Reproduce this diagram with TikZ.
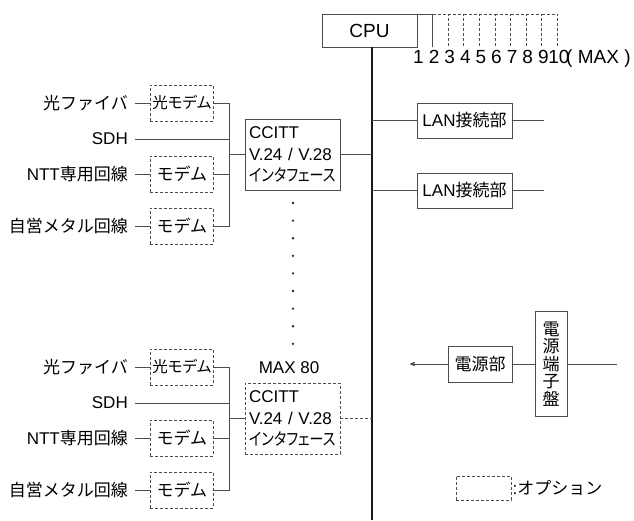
\documentclass[tikz,border=0pt]{standalone}
\usepackage{fontspec}
\setmainfont{Liberation Sans}
\newfontfamily\jp{Noto Sans CJK JP}
\newfontfamily\jpp[RawFeature=+palt]{Noto Sans CJK JP}
\usetikzlibrary{arrows,positioning}

\begin{document}
\begin{tikzpicture}[x=1pt,y=-1pt,node distance=19pt,>=stealth']
  \tikzstyle{every node}=[font=\fontsize{17}{21.5}\selectfont,text=black]
  \tikzstyle{wire}=[draw=black!70,line width=0.8pt]
  \tikzstyle{optwire}=[wire,dash pattern=on 3pt off 2pt]
  \tikzstyle{box}=[rectangle,draw=black!70,line width=0.8pt,inner sep=2pt]
  \tikzstyle{opt}=[box,dash pattern=on 3pt off 2pt]
  \tikzstyle{modem}=[opt,minimum width=63pt,minimum height=36pt]
  \tikzstyle{iface}=[box,minimum width=95pt,minimum height=71pt,
                     text width=87pt,align=left]
  \tikzstyle{lan}=[box,minimum width=95pt,minimum height=35pt]
  \tikzstyle{line label}=[anchor=east,inner sep=3pt]
  \tikzstyle{num}=[font=\fontsize{19}{21}\selectfont,inner sep=0pt,anchor=base]

  \useasboundingbox (0,0) rectangle (634,520);

  % CPU with its slots 1..10
  \node [box,minimum width=95pt,minimum height=33pt,
         font=\fontsize{19}{21}\selectfont] (cpu) at (369.5,30.5) {CPU};
  \coordinate (bus) at (372,47);
  \coordinate (busend) at (372,520);
  \draw [line width=1.6pt,black!90] (bus) -- (busend);
  \foreach \i in {1,...,10}
    \coordinate (s\i) at (417+\i*15.6-15.6,14);
  \draw [wire] (s1) -- (s2) -- (s2 |- cpu.south);
  \foreach \i [count=\j from 3] in {2,...,9}
    \draw [optwire] (s\i) -- (s\j) -- (s\j |- cpu.south);
  \foreach \i in {1,...,10}
    \node [num] (n\i) at ([xshift=1.5pt]s\i |- 0,63) {\i};
  \node [num,anchor=base west] (nmax) at (566,63) {( MAX )};

  % LAN
  \node [lan] (lan1) at (464.5,120.5) {LAN{\jp 接続部}};
  \node [lan] (lan2) at (464.5,190.5) {LAN{\jp 接続部}};
  \coordinate (lan1end) at (544,120.5);
  \coordinate (lan2end) at (544,190.5);
  \draw [wire] (lan1.west -| bus) -- (lan1.west);
  \draw [wire] (lan1.east) -- (lan1end);
  \draw [wire] (lan2.west -| bus) -- (lan2.west);
  \draw [wire] (lan2.east) -- (lan2end);

  % upper line group
  \begin{scope}[yshift=0pt]
    \node [line label] (fib1) at (131,103) {\jp 光ファイバ};
    \node [modem,right=of fib1] (om1) {\jpp\fontsize{15.5}{18}\selectfont 光モデム};
    \node [line label] (sdh1) at (131,139) {SDH};
    \node [line label] (ntt1) at (131,174) {NTT{\jp 専用回線}};
    \node [modem,right=of ntt1] (md1) {\jp モデム};
    \node [line label] (own1) at (131,226) {\jp 自営メタル回線};
    \node [modem,right=of own1] (mm1) {\jp モデム};
    \coordinate (j1) at (229,154.5);
    \node [iface] (if1) at (292.5,154.5)
      {CCITT\\V.24 / V.28\\\scalebox{0.83}[1]{\jpp インタフェース}};
    \draw [wire,shorten <=4pt] (fib1) -- (om1);
    \draw [wire,shorten <=4pt] (ntt1) -- (md1);
    \draw [wire,shorten <=4pt] (own1) -- (mm1);
    \draw [wire,shorten <=4pt] (sdh1.east) -| (j1);
    \draw [wire] (om1.east) -| (j1);
    \draw [wire] (md1.east) -| (j1);
    \draw [wire] (mm1.east) -| (j1) -- (if1.west);
    \draw [wire] (if1.east) -- (if1.east -| bus);
  \end{scope}

  % more interfaces, up to 80
  \foreach \k in {0,...,8}
    \fill [black!85] (293,203+\k*17.6) circle (1.3pt);
  \node (max80) at (289,368) {MAX 80};

  % lower line group (option)
  \begin{scope}[yshift=-264pt]
    \node [line label] (fib2) at (131,103) {\jp 光ファイバ};
    \node [modem,right=of fib2] (om2) {\jpp\fontsize{15.5}{18}\selectfont 光モデム};
    \node [line label] (sdh2) at (131,139) {SDH};
    \node [line label] (ntt2) at (131,174) {NTT{\jp 専用回線}};
    \node [modem,right=of ntt2] (md2) {\jp モデム};
    \node [line label] (own2) at (131,226) {\jp 自営メタル回線};
    \node [modem,right=of own2] (mm2) {\jp モデム};
    \coordinate (j2) at (229,154.5);
    \node [iface,dash pattern=on 3pt off 2pt] (if2) at (292.5,154.5)
      {CCITT\\V.24 / V.28\\\scalebox{0.83}[1]{\jpp インタフェース}};
    \draw [wire,shorten <=4pt] (fib2) -- (om2);
    \draw [wire,shorten <=4pt] (ntt2) -- (md2);
    \draw [wire,shorten <=4pt] (own2) -- (mm2);
    \draw [wire,shorten <=4pt] (sdh2.east) -| (j2);
    \draw [wire] (om2.east) -| (j2);
    \draw [wire] (md2.east) -| (j2);
    \draw [wire] (mm2.east) -| (j2) -- (if2.west);
    \draw [optwire] (if2.east) -- (if2.east -| bus);
  \end{scope}

  % power supply
  \node [box,minimum width=64pt,minimum height=36pt] (psu) at (480,364) {\jp 電源部};
  \node [box,minimum width=32pt,minimum height=105pt,align=center,
         font=\jp\fontsize{17}{17.5}\selectfont] (term) at (551,364) {電\\源\\端\\子\\盤};
  \coordinate (psuout) at (410,364);
  \coordinate (termin) at (617,364);
  \draw [wire,->] (psu) -- (psuout);
  \draw [wire] (psu) -- (term);
  \draw [wire] (term) -- (termin);

  % legend
  \node [opt,minimum width=55pt,minimum height=24pt] (legend) at (483.5,488) {};
  \node [anchor=west,inner sep=1pt] (legendtxt) at (legend.east) {:{\jp オプション}};
\end{tikzpicture}
\end{document}
